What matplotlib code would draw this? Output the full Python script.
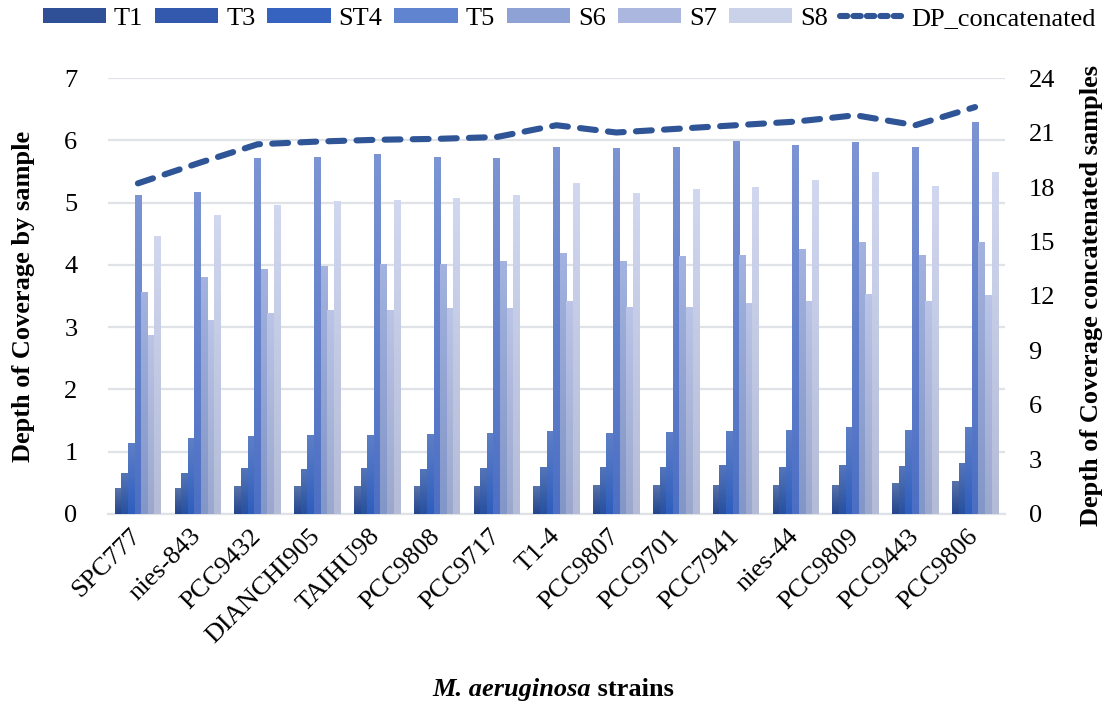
import numpy as np
import matplotlib
matplotlib.use("Agg")
import matplotlib.pyplot as plt
from matplotlib.colors import LinearSegmentedColormap
from matplotlib.patches import Patch
from matplotlib.lines import Line2D
from matplotlib.transforms import ScaledTranslation

strains = ["SPC777", "nies-843", "PCC9432", "DIANCHI905", "TAIHU98", "PCC9808",
           "PCC9717", "T1-4", "PCC9807", "PCC9701", "PCC7941", "nies-44",
           "PCC9809", "PCC9443", "PCC9806"]
T1 = [0.41, 0.42, 0.45, 0.45, 0.45, 0.45, 0.45, 0.45, 0.47, 0.47, 0.47, 0.47, 0.47, 0.50, 0.53]
T3 = [0.66, 0.66, 0.74, 0.73, 0.74, 0.73, 0.74, 0.76, 0.76, 0.76, 0.78, 0.76, 0.78, 0.77, 0.82]
ST4 = [1.14, 1.22, 1.26, 1.27, 1.27, 1.29, 1.30, 1.34, 1.30, 1.32, 1.34, 1.35, 1.40, 1.35, 1.40]
T5 = [5.12, 5.17, 5.71, 5.73, 5.78, 5.73, 5.71, 5.90, 5.87, 5.90, 5.99, 5.92, 5.97, 5.89, 6.29]
S6 = [3.57, 3.81, 3.94, 3.98, 4.02, 4.02, 4.06, 4.19, 4.06, 4.14, 4.16, 4.26, 4.36, 4.16, 4.36]
S7 = [2.88, 3.12, 3.23, 3.28, 3.28, 3.31, 3.31, 3.42, 3.33, 3.33, 3.39, 3.42, 3.53, 3.42, 3.51]
S8 = [4.47, 4.80, 4.96, 5.03, 5.04, 5.07, 5.12, 5.31, 5.15, 5.21, 5.25, 5.36, 5.49, 5.26, 5.49]
DP_concatenated = [18.2, 19.3, 20.35, 20.5, 20.6, 20.65, 20.75, 21.4, 21.0, 21.2, 21.4, 21.6, 21.95, 21.4, 22.4]

series_names = ["T1", "T3", "ST4", "T5", "S6", "S7", "S8"]
series = [T1, T3, ST4, T5, S6, S7, S8]
# (bottom colour, top colour, legend colour)
colors = [
    ("#23458d", "#5a74ab", "#2f4f96"),
    ("#26509f", "#5675b8", "#3259ae"),
    ("#2e5ebe", "#5e7fc6", "#3763c0"),
    ("#4c6fc4", "#7c94d3", "#6084cf"),
    ("#8296c8", "#a3b2de", "#8ea2d6"),
    ("#9ba7cd", "#bac4e7", "#abb7df"),
    ("#b3bbd7", "#d1d7ef", "#cad2ea"),
]
line_color = "#2f5597"
FS = 19

plt.rcParams["font.family"] = ["Liberation Serif", "DejaVu Serif"]

fig = plt.figure(figsize=(11.1, 7.04), dpi=100)
ax = fig.add_axes([0.0973, 0.2699, 0.8081, 0.6193])
ax2 = ax.twinx()

n = len(strains)
x = np.arange(n)
bw = 0.11
offsets = (np.arange(7) - 3) * bw

for i, (vals, (cb, ct, cl)) in enumerate(zip(series, colors)):
    cmap = LinearSegmentedColormap.from_list("g%d" % i, [cb, ct])
    bars = ax.bar(x + offsets[i], vals, width=bw, color=cl, linewidth=0, zorder=2)
    grad = np.linspace(0, 1, 64).reshape(-1, 1)
    for b in bars:
        bx, by = b.get_x(), b.get_y()
        w, h = b.get_width(), b.get_height()
        im = ax.imshow(grad, cmap=cmap, origin="lower", aspect="auto",
                       extent=[bx, bx + w, by, by + h], zorder=3, interpolation="bilinear")
        im.set_clip_path(b)
        b.set_alpha(0)

ax.set_xlim(-0.5, n - 0.5)
ax.set_ylim(0, 7)
ax.set_yticks(range(0, 8))
ax.grid(axis="y", color="#dfe3e8", linewidth=1.6, zorder=0)
ax.set_axisbelow(True)
for s in ["top", "right", "left"]:
    ax.spines[s].set_visible(False)
ax.spines["bottom"].set_color("#dfe3e8")
ax.spines["bottom"].set_linewidth(1.6)
ax.tick_params(axis="both", length=0, labelsize=FS)
ax.tick_params(axis="y", pad=22)
ax.set_xticks(x)
ax.set_xticklabels(strains, rotation=45, ha="right", rotation_mode="anchor", fontsize=FS)
ax.tick_params(axis="x", pad=8)
shift = ScaledTranslation(-8 / 100, 0, fig.dpi_scale_trans)
for lab in ax.get_xticklabels():
    lab.set_transform(lab.get_transform() + shift)

ax2.plot(x, DP_concatenated, color=line_color, linewidth=4.4,
         linestyle=(0, (2.6, 2.0)), dash_capstyle="round", zorder=5)
ax2.set_ylim(0, 24)
ax2.set_yticks(range(0, 25, 3))
for s in ["top", "right", "left", "bottom"]:
    ax2.spines[s].set_visible(False)
ax2.tick_params(axis="y", length=0, labelsize=FS, pad=17)

ax.set_ylabel("Depth of Coverage by sample", fontsize=FS, fontweight="bold", labelpad=21)
ax2.set_ylabel("Depth of Coverage concatenated samples", fontsize=FS, fontweight="bold", labelpad=18)

# x label: italic part + normal bold part
fig.canvas.draw()
r = fig.canvas.get_renderer()
t1 = fig.text(0, 0.012, "M. aeruginosa", fontsize=FS, fontweight="bold", style="italic",
              ha="left", va="baseline")
t2 = fig.text(0, 0.012, " strains", fontsize=FS, fontweight="bold", ha="left", va="baseline")
w1 = t1.get_window_extent(r).width
w2 = t2.get_window_extent(r).width
total = w1 + w2
cx = 553
t1.set_x((cx - total / 2) / 1110)
t2.set_x((cx - total / 2 + w1) / 1110)

handles = [Patch(facecolor=c[2], edgecolor="none") for c in colors]
handles.append(Line2D([0], [0], color=line_color, linewidth=4.4,
                      linestyle=(0, (1.2, 1.0)), dash_capstyle="round"))
labels = series_names + ["DP_concatenated"]
fig.legend(handles, labels, loc="upper center", bbox_to_anchor=(0.5126, 1.015), ncol=8,
           frameon=False, fontsize=FS, handlelength=2.4, handleheight=0.5,
           columnspacing=0.45, handletextpad=0.3, borderaxespad=0.3)

fig.savefig("out.png", dpi=100)
